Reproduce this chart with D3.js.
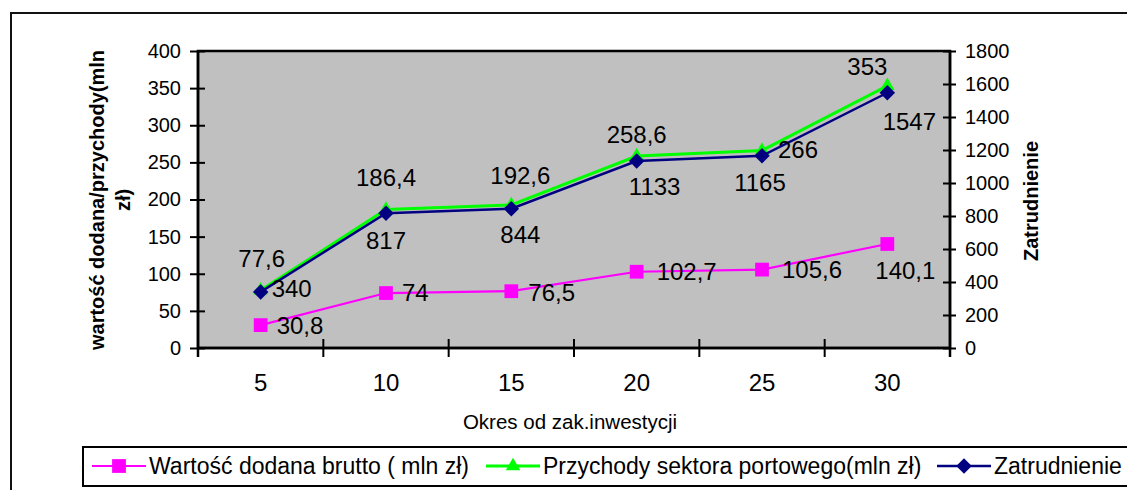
<!DOCTYPE html>
<html>
<head>
<meta charset="utf-8">
<script src="https://cdn.jsdelivr.net/npm/d3@7"></script>
<style>
  body { margin: 0; background: #fff; }
  svg { font-family: "Liberation Sans", Arial, sans-serif; }
</style>
</head>
<body>
<svg id="chart" width="1127" height="490"></svg>
<script>
// data
const periods = [5, 10, 15, 20, 25, 30]
const wartoscDodana = [30.8, 74, 76.5, 102.7, 105.6, 140.1]
const przychody = [77.6, 186.4, 192.6, 258.6, 266, 353]
const zatrudnienie = [340, 817, 844, 1133, 1165, 1547]
const leftTicks = [0, 50, 100, 150, 200, 250, 300, 350, 400]
const rightTicks = [0, 200, 400, 600, 800, 1000, 1200, 1400, 1600, 1800]

const svg = d3.select('#chart')
const plot = { left: 198, right: 950, top: 51, bottom: 348 }

const x = d3.scaleBand().domain(periods).range([plot.left, plot.right]).padding(0)
const yL = d3.scaleLinear().domain([0, 400]).range([plot.bottom, plot.top])
const yR = d3.scaleLinear().domain([0, 1800]).range([plot.bottom, plot.top])
const cx = d => x(d) + x.bandwidth() / 2
const fmt = v => String(v).replace('.', ',')

// outer frame
svg.append('rect')
  .attr('x', 11).attr('y', 13)
  .attr('width', 1140).attr('height', 500)
  .attr('fill', 'white').attr('stroke', '#111').attr('stroke-width', 2)

// plot area
svg.append('rect')
  .attr('x', plot.left).attr('y', plot.top)
  .attr('width', plot.right - plot.left).attr('height', plot.bottom - plot.top)
  .attr('fill', '#c0c0c0').attr('stroke', '#000').attr('stroke-width', 2.5)

// left axis
const leftAxis = d3.axisLeft(yL).tickValues(leftTicks).tickSize(0).tickPadding(17).tickFormat(d3.format('d'))
const gL = svg.append('g').attr('transform', `translate(${plot.left},0)`).call(leftAxis)
gL.select('.domain').remove()
gL.selectAll('text').attr('font-size', 20).attr('fill', '#000').attr('font-family', 'Liberation Sans, Arial')
gL.selectAll('.tick').append('line').attr('x1', -8).attr('x2', 7).attr('stroke', '#000').attr('stroke-width', 2)
svg.append('line')
  .attr('x1', plot.left).attr('x2', plot.left)
  .attr('y1', plot.top).attr('y2', plot.bottom + 9)
  .attr('stroke', '#000').attr('stroke-width', 2.5)

// right axis
const rightAxis = d3.axisRight(yR).tickValues(rightTicks).tickSize(0).tickPadding(15).tickFormat(d3.format('d'))
const gR = svg.append('g').attr('transform', `translate(${plot.right},0)`).call(rightAxis)
gR.select('.domain').remove()
gR.selectAll('text').attr('font-size', 20).attr('fill', '#000').attr('font-family', 'Liberation Sans, Arial')
gR.selectAll('.tick').append('line').attr('x1', -7).attr('x2', 6).attr('stroke', '#000').attr('stroke-width', 2)
svg.append('line')
  .attr('x1', plot.right).attr('x2', plot.right)
  .attr('y1', plot.top).attr('y2', plot.bottom + 9)
  .attr('stroke', '#000').attr('stroke-width', 2.5)

// bottom axis: labels at band centres, ticks at band edges
const bottomAxis = d3.axisBottom(x).tickSize(0).tickPadding(26)
const gB = svg.append('g').attr('transform', `translate(0,${plot.bottom})`).call(bottomAxis)
gB.select('.domain').remove()
gB.selectAll('text').attr('font-size', 24).attr('fill', '#000').attr('font-family', 'Liberation Sans, Arial')
svg.append('line')
  .attr('x1', plot.left).attr('x2', plot.right)
  .attr('y1', plot.bottom).attr('y2', plot.bottom)
  .attr('stroke', '#000').attr('stroke-width', 2.5)
svg.append('g').selectAll('line')
  .data(periods.slice(1))
  .enter()
  .append('line')
  .attr('x1', d => x(d)).attr('x2', d => x(d))
  .attr('y1', plot.bottom - 9).attr('y2', plot.bottom + 9)
  .attr('stroke', '#000').attr('stroke-width', 2)

// axis titles
svg.append('text')
  .attr('x', (plot.left + plot.right) / 2 - 4).attr('y', 429)
  .attr('text-anchor', 'middle').attr('font-size', 20.5)
  .text('Okres od zak.inwestycji')

const leftTitle = svg.append('text')
  .attr('transform', 'translate(104,200) rotate(-90)')
  .attr('text-anchor', 'middle').attr('font-size', 20).attr('font-weight', 'bold')
leftTitle.append('tspan').attr('x', 0).attr('y', 0).text('wartość dodana/przychody(mln')
leftTitle.append('tspan').attr('x', 0).attr('y', 26).text('zł)')

svg.append('text')
  .attr('transform', 'translate(1038,201) rotate(-90)')
  .attr('text-anchor', 'middle').attr('font-size', 20).attr('font-weight', 'bold')
  .text('Zatrudnienie')

// series (diamond = square turned 45deg, like Excel)
const series = [
  { name: 'Wartość dodana brutto ( mln zł)', values: wartoscDodana, y: yL, color: '#ff00ff', width: 2.2, symbol: d3.symbolSquare, size: 190, rot: 0,
    labels: [[16, 0, 'start'], [16, 0, 'start'], [17, 1, 'start'], [20, 0, 'start'], [20, 0, 'start'], [18, 27, 'middle']] },
  { name: 'Przychody sektora portowego(mln zł)', values: przychody, y: yL, color: '#00ff00', width: 3, symbol: d3.symbolTriangle, size: 90, rot: 0,
    labels: [[1, -32, 'middle'], [0, -32, 'middle'], [9, -29, 'middle'], [0, -21, 'middle'], [16, -1, 'start'], [-20, -19, 'middle']] },
  { name: 'Zatrudnienie', values: zatrudnienie, y: yR, color: '#000080', width: 2.5, symbol: d3.symbolSquare, size: 120, rot: 45,
    labels: [[11, -3, 'start'], [0, 27, 'middle'], [9, 26, 'middle'], [18, 26, 'middle'], [-2, 27, 'middle'], [22, 29, 'middle']] }
]

series.forEach(s => {
  const line = d3.line().x((d, i) => cx(periods[i])).y(d => s.y(d))
  svg.append('path')
    .datum(s.values)
    .attr('d', line)
    .attr('fill', 'none')
    .attr('stroke', s.color)
    .attr('stroke-width', s.width)

  svg.append('g').selectAll('path')
    .data(s.values)
    .enter()
    .append('path')
    .attr('d', d3.symbol().type(s.symbol).size(s.size))
    .attr('transform', (d, i) => `translate(${cx(periods[i])},${s.y(d)}) rotate(${s.rot})`)
    .attr('fill', s.color)
})

// data labels drawn last so they sit on top
series.forEach(s => {
  svg.append('g').selectAll('text')
    .data(s.values)
    .enter()
    .append('text')
    .attr('x', (d, i) => cx(periods[i]) + s.labels[i][0])
    .attr('y', (d, i) => s.y(d) + s.labels[i][1])
    .attr('dy', '0.35em')
    .attr('text-anchor', (d, i) => s.labels[i][2])
    .attr('font-size', 24)
    .text(d => fmt(d))
})

// legend
const legend = svg.append('g')
legend.append('rect')
  .attr('x', 83).attr('y', 447)
  .attr('width', 1080).attr('height', 39)
  .attr('fill', 'white').attr('stroke', '#000').attr('stroke-width', 2)

const legendX = [92, 486, 937]
series.forEach((s, i) => {
  const lx = legendX[i]
  legend.append('line')
    .attr('x1', lx).attr('x2', lx + 54)
    .attr('y1', 466).attr('y2', 466)
    .attr('stroke', s.color).attr('stroke-width', s.width)
  legend.append('path')
    .attr('d', d3.symbol().type(s.symbol).size(s.size))
    .attr('transform', `translate(${lx + 27},466) rotate(${s.rot})`)
    .attr('fill', s.color)
  legend.append('text')
    .attr('x', lx + 57).attr('y', 474)
    .attr('font-size', 23)
    .text(s.name)
})
</script>
</body>
</html>
